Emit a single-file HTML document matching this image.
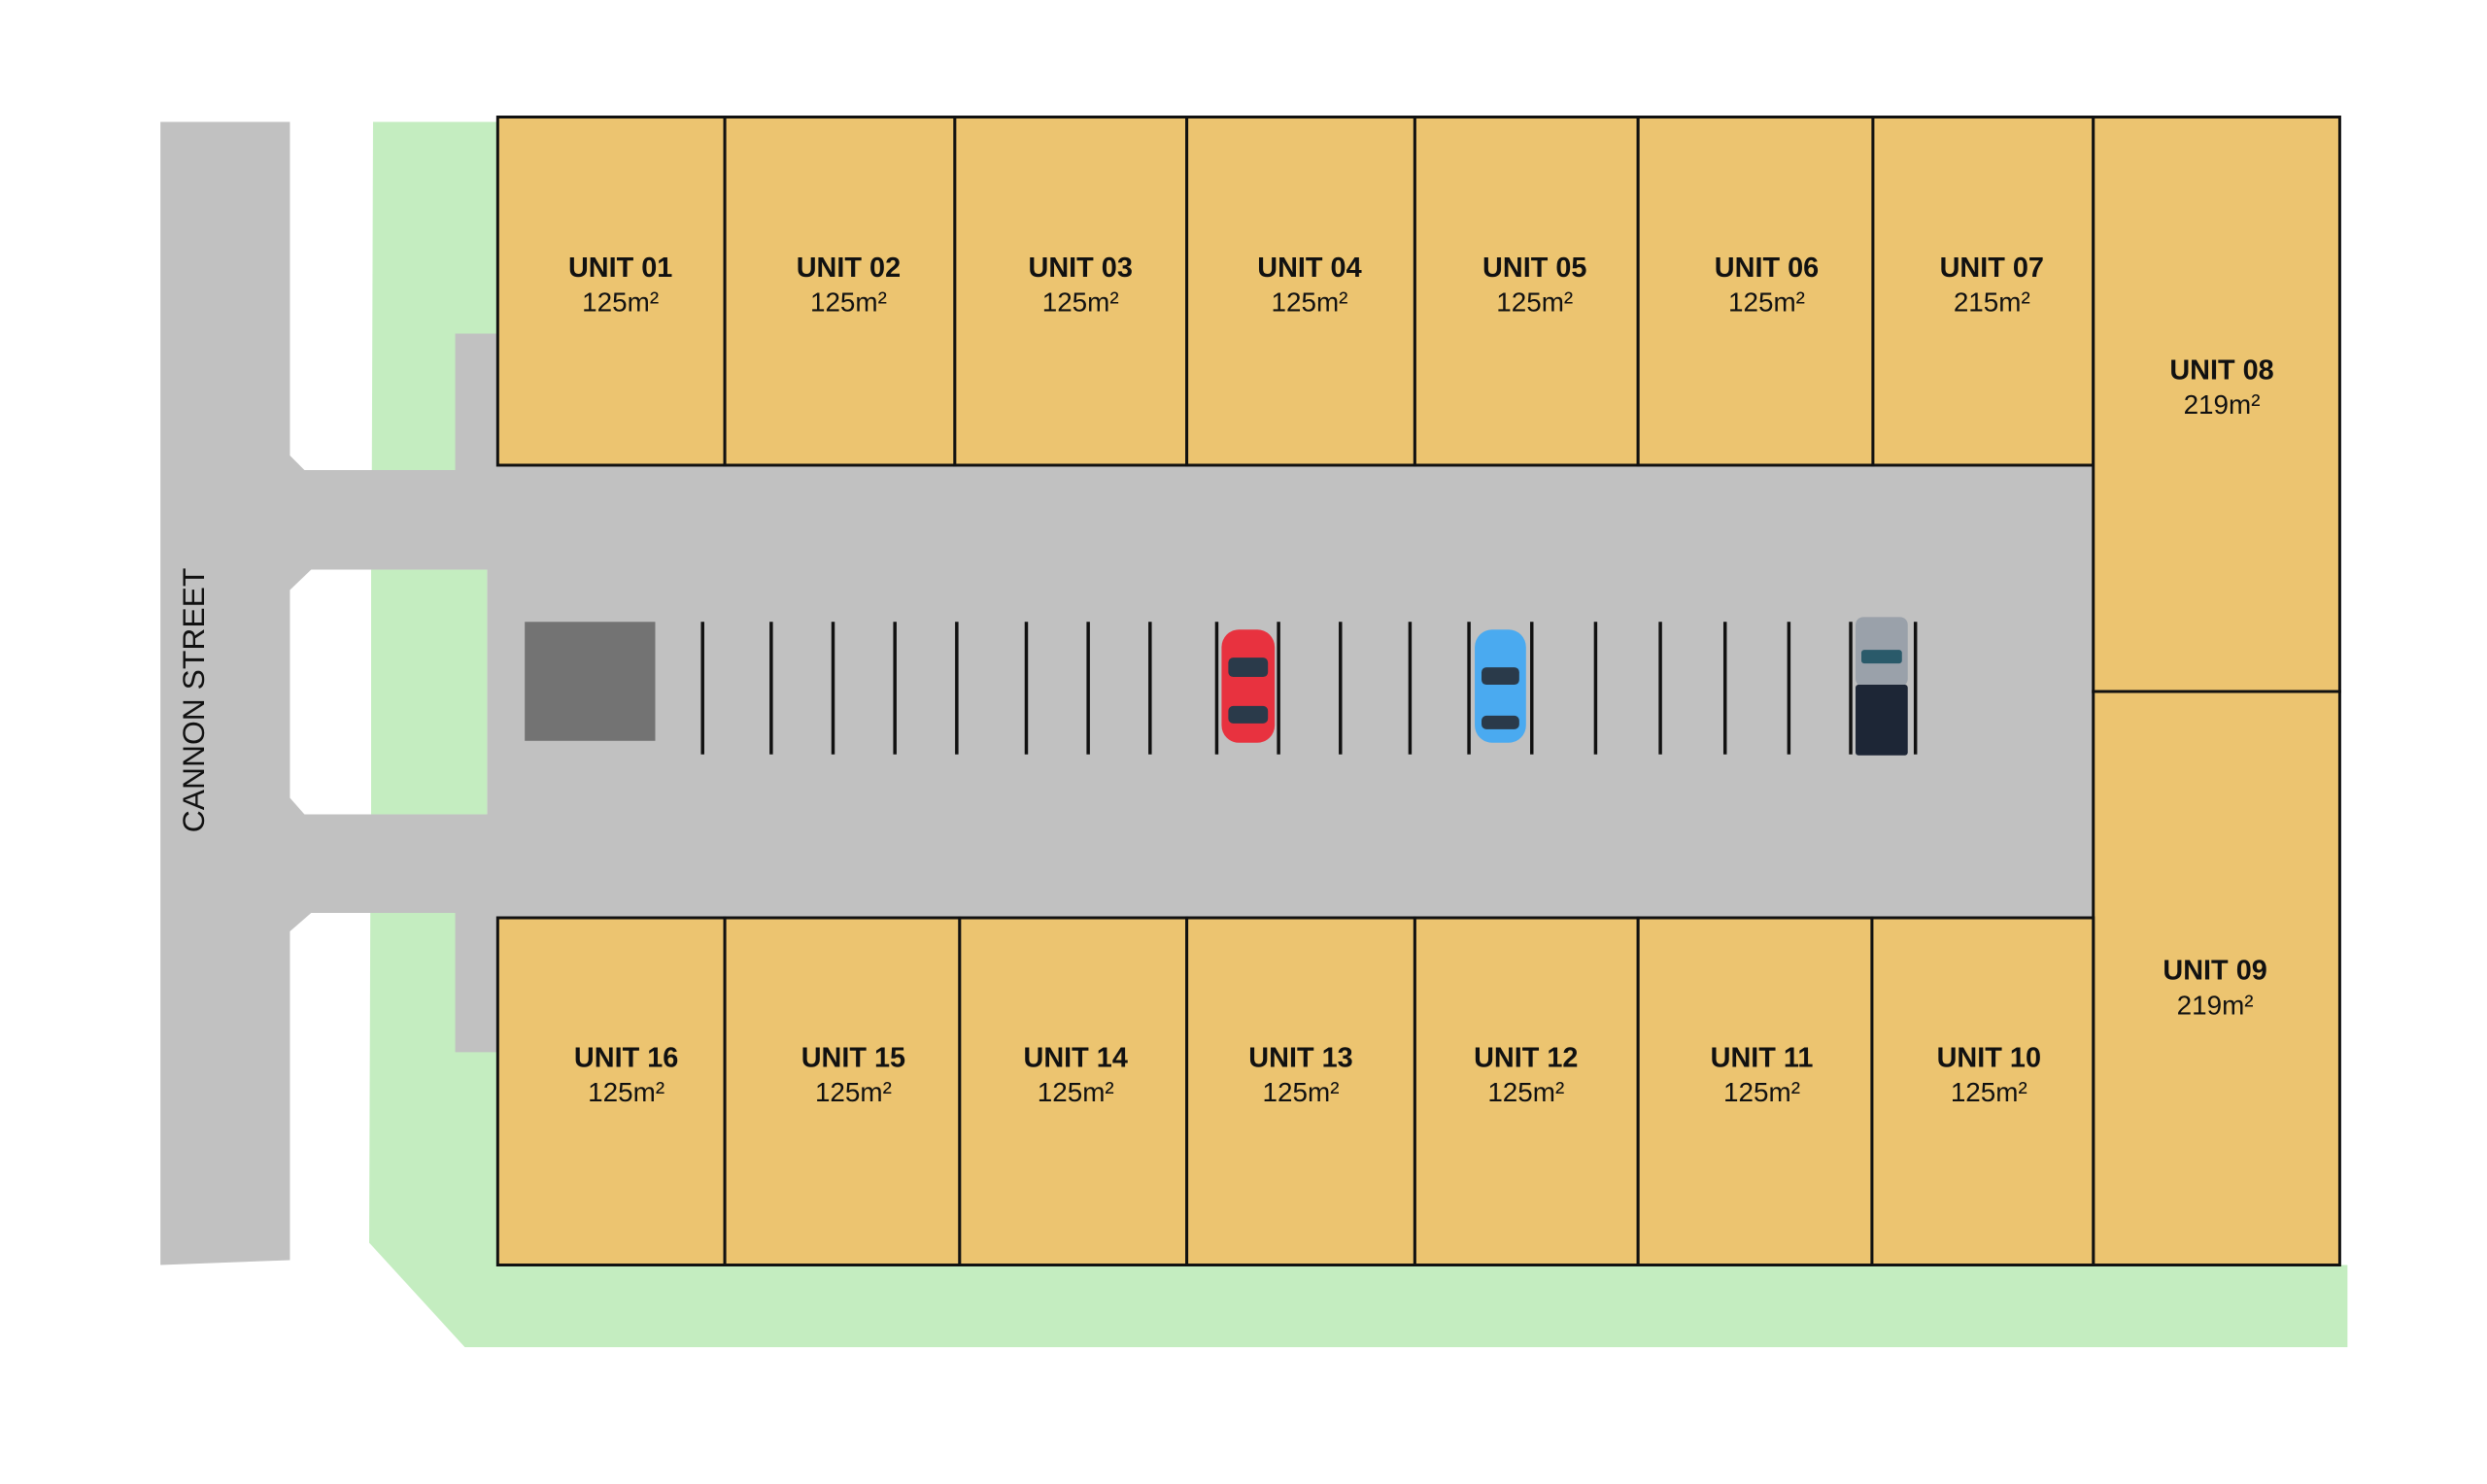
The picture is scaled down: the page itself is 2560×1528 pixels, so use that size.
<!DOCTYPE html>
<html><head><meta charset="utf-8"><style>
html,body{margin:0;padding:0;background:#fff;}
svg{display:block;}
text{font-family:"Liberation Sans",sans-serif;fill:#111;text-anchor:middle;}
.b{font-weight:bold;font-size:29px;}
.n{font-size:28px;}
</style></head><body>
<svg width="2560" height="1528" viewBox="0 0 2560 1528" xmlns="http://www.w3.org/2000/svg">
<g transform="scale(0.9948 0.9958)">
<!-- green -->
<polygon points="386,126 515,126 515,1308 2429,1308 2429,1290 2429,1393 481,1393 382,1285" fill="#c4edc0"/>
<!-- street + roads -->
<polygon points="166,126 300,126 300,471 315,486 471,486 471,345 515,345 515,481 2166,481 2166,949 515,949 515,1088 471,1088 471,944 322,944 300,963 300,1303 166,1308" fill="#c1c1c1"/>
<!-- middle island -->
<polygon points="300,610 322,589 504,589 504,842 315,842 300,825" fill="#fff"/>
<rect x="384" y="589" width="120" height="253" fill="#c4edc0"/>
<!-- units -->
<g fill="#ecc470" stroke="#111" stroke-width="3">
<rect x="515" y="121" width="235" height="360"/>
<rect x="750" y="121" width="238" height="360"/>
<rect x="988" y="121" width="240" height="360"/>
<rect x="1228" y="121" width="236" height="360"/>
<rect x="1464" y="121" width="231" height="360"/>
<rect x="1695" y="121" width="243" height="360"/>
<rect x="1938" y="121" width="228" height="360"/>
<rect x="2166" y="121" width="255" height="594"/>
<rect x="2166" y="715" width="255" height="593"/>
<rect x="515" y="949" width="235" height="359"/>
<rect x="750" y="949" width="243" height="359"/>
<rect x="993" y="949" width="235" height="359"/>
<rect x="1228" y="949" width="236" height="359"/>
<rect x="1464" y="949" width="231" height="359"/>
<rect x="1695" y="949" width="242" height="359"/>
<rect x="1937" y="949" width="229" height="359"/>
</g>
<!-- parking -->
<rect x="543" y="643" width="135" height="123" fill="#737373"/>
<g stroke="#111" stroke-width="3.5">
<line x1="727" y1="643" x2="727" y2="780"/><line x1="798" y1="643" x2="798" y2="780"/>
<line x1="862" y1="643" x2="862" y2="780"/><line x1="926" y1="643" x2="926" y2="780"/>
<line x1="990" y1="643" x2="990" y2="780"/><line x1="1062" y1="643" x2="1062" y2="780"/>
<line x1="1126" y1="643" x2="1126" y2="780"/><line x1="1190" y1="643" x2="1190" y2="780"/>
<line x1="1259" y1="643" x2="1259" y2="780"/><line x1="1323" y1="643" x2="1323" y2="780"/>
<line x1="1387" y1="643" x2="1387" y2="780"/><line x1="1459" y1="643" x2="1459" y2="780"/>
<line x1="1520" y1="643" x2="1520" y2="780"/><line x1="1585" y1="643" x2="1585" y2="780"/>
<line x1="1651" y1="643" x2="1651" y2="780"/><line x1="1718" y1="643" x2="1718" y2="780"/>
<line x1="1785" y1="643" x2="1785" y2="780"/><line x1="1851" y1="643" x2="1851" y2="780"/>
<line x1="1915" y1="643" x2="1915" y2="780"/><line x1="1982" y1="643" x2="1982" y2="780"/>
</g>
<!-- cars -->
<rect x="1264" y="651" width="55" height="117" rx="18" fill="#e8323f"/>
<rect x="1271" y="680" width="41" height="20" rx="5" fill="#2a3a4a"/>
<rect x="1271" y="730" width="41" height="18" rx="5" fill="#2a3a4a"/>
<rect x="1526" y="651" width="53" height="117" rx="18" fill="#4aaaf0"/>
<rect x="1533" y="690" width="39" height="18" rx="5" fill="#2a3a4a"/>
<rect x="1533" y="740" width="39" height="14" rx="5" fill="#2a3a4a"/>
<rect x="1920" y="638" width="54" height="72" rx="8" fill="#9aa1aa"/>
<rect x="1926" y="672" width="42" height="14" rx="3" fill="#2a5a6a"/>
<rect x="1920" y="708" width="54" height="73" rx="3" fill="#1d2636"/>
<!-- labels -->
<text class="b" x="642" y="286">UNIT 01</text><text class="n" x="642" y="322">125m²</text>
<text class="b" x="878" y="286">UNIT 02</text><text class="n" x="878" y="322">125m²</text>
<text class="b" x="1118" y="286">UNIT 03</text><text class="n" x="1118" y="322">125m²</text>
<text class="b" x="1355" y="286">UNIT 04</text><text class="n" x="1355" y="322">125m²</text>
<text class="b" x="1588" y="286">UNIT 05</text><text class="n" x="1588" y="322">125m²</text>
<text class="b" x="1828" y="286">UNIT 06</text><text class="n" x="1828" y="322">125m²</text>
<text class="b" x="2061" y="286">UNIT 07</text><text class="n" x="2061" y="322">215m²</text>
<text class="b" x="2299" y="392">UNIT 08</text><text class="n" x="2299" y="428">219m²</text>
<text class="b" x="2292" y="1013">UNIT 09</text><text class="n" x="2292" y="1049">219m²</text>
<text class="b" x="648" y="1103">UNIT 16</text><text class="n" x="648" y="1139">125m²</text>
<text class="b" x="883" y="1103">UNIT 15</text><text class="n" x="883" y="1139">125m²</text>
<text class="b" x="1113" y="1103">UNIT 14</text><text class="n" x="1113" y="1139">125m²</text>
<text class="b" x="1346" y="1103">UNIT 13</text><text class="n" x="1346" y="1139">125m²</text>
<text class="b" x="1579" y="1103">UNIT 12</text><text class="n" x="1579" y="1139">125m²</text>
<text class="b" x="1823" y="1103">UNIT 11</text><text class="n" x="1823" y="1139">125m²</text>
<text class="b" x="2058" y="1103">UNIT 10</text><text class="n" x="2058" y="1139">125m²</text>
<text x="211" y="724" transform="rotate(-90 211 724)" style="font-size:32px">CANNON STREET</text>
</g>
</svg>
</body></html>
